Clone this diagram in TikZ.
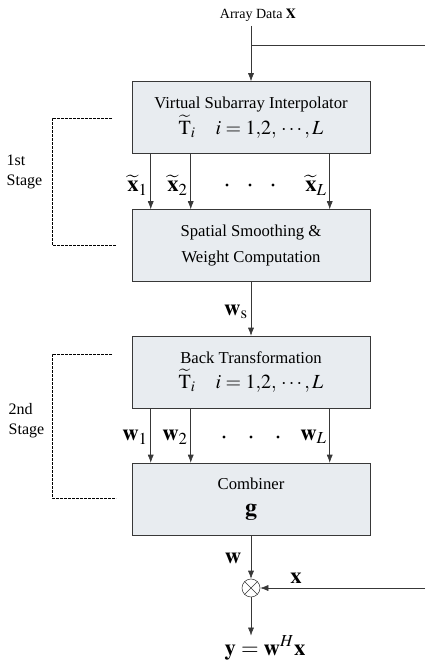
\documentclass[tikz,border=0pt]{standalone}
\usepackage{mathptmx}
\usepackage[no-math]{fontspec}
\setmainfont{Liberation Serif}
\usetikzlibrary{arrows.meta, calc, positioning}
\definecolor{box-fill}{RGB}{232,236,240}
\definecolor{line-gray}{gray}{0.22}

\begin{document}
\begin{tikzpicture}[x=0.75pt, y=-0.75pt, thin]
  \tikzstyle{block} = [draw=line-gray, fill=box-fill, minimum width=178.5pt, minimum height=54pt, align=center, font=\fontsize{12.5}{19}\selectfont]
  \tikzstyle{sig} = [-{Latex[length=6pt,width=4.5pt]}, draw=line-gray]
  \tikzstyle{stage} = [dash pattern=on 2pt off 1pt, draw=black]
  \tikzstyle{stagetext} = [align=left, anchor=west, font=\fontsize{12}{15}\selectfont]
  \tikzstyle{lbl} = [font=\fontsize{17}{17}\selectfont, inner sep=0pt]
  \def\tmath{\fontsize{15}{15}\selectfont$\widetilde{\mathrm{T}}_i\quad i=1{,}2,\,\cdots,L$}
  \useasboundingbox (0,0) rectangle (425,660);
% Input and blocks.
    \node[font=\fontsize{10.5}{12}\selectfont] (data) at (258,15) {Array Data $\mathbf{X}$};
    \node[block] (vsi) at (251,117.5) {Virtual Subarray Interpolator\\ \tmath};
    \node[block] (ssw) at (251,245.5) {Spatial Smoothing \&\\ Weight Computation};
    \node[block] (btr) at (251,372) {Back Transformation\\ \tmath};
    \node[block] (cmb) at (251,499) {Combiner\\ {\fontsize{18}{18}\selectfont$\mathbf{g}$}};
    \node[draw=line-gray, circle, inner sep=0pt, minimum size=13.5pt, fill=white] (mult) at (251,588) {};
    \draw[line-gray] (mult.north west) -- (mult.south east) (mult.north east) -- (mult.south west);
    \node[lbl, anchor=base] (res) at (265,655) {$\mathbf{y}=\mathbf{w}^{H}\mathbf{x}$};
% Input branch.
    \coordinate (split) at (251,45);
    \coordinate (xright) at (425,45);
    \coordinate (xin) at (425,588);
    \draw[sig] (data.south -| vsi.north) -- (vsi.north);
    \draw[line-gray] (split) -- (xright);
% Stage 1 outputs.
    \foreach \dx in {19,59,198}
      \draw[sig] ($(vsi.south west)+(\dx,0)$) -- ($(ssw.north west)+(\dx,0)$);
    \node[lbl, anchor=east] (xt1) at (148,185) {$\widetilde{\mathbf{x}}_1$};
    \node[lbl, anchor=east] (xt2) at (188,185) {$\widetilde{\mathbf{x}}_2$};
    \node[lbl, anchor=east] (xtL) at (327,185) {$\widetilde{\mathbf{x}}_L$};
    \foreach \px in {227,250,273}
      \fill (\px,185) circle (1.3pt);
    \draw[sig] (ssw) -- (btr);
    \node[lbl, anchor=east] (ws) at (248,312) {$\mathbf{w}_{\mathrm{s}}$};
% Stage 2 outputs.
    \foreach \dx in {19,59,198}
      \draw[sig] ($(btr.south west)+(\dx,0)$) -- ($(cmb.north west)+(\dx,0)$);
    \node[lbl, anchor=east] (w1) at (148,437) {$\mathbf{w}_1$};
    \node[lbl, anchor=east] (w2) at (188,437) {$\mathbf{w}_2$};
    \node[lbl, anchor=east] (wL) at (327,437) {$\mathbf{w}_L$};
    \foreach \px in {224,251,278}
      \fill (\px,437) circle (1.3pt);
% Combining.
    \draw[sig] (cmb) -- (mult);
    \node[lbl] (w) at (233,558) {$\mathbf{w}$};
    \draw[sig] (xin) -- (mult);
    \node[lbl] (xlbl) at (296,578) {$\mathbf{x}$};
    \draw[sig] (mult) -- (mult |- res.north);
% Stage brackets.
    \draw[stage] (112,118) -- (52,118) -- (52,245) -- (116,245);
    \draw[stage] (112,354) -- (52,354) -- (52,498) -- (116,498);
    \node[stagetext] (st1) at (2,172) {1st\\Stage};
    \node[stagetext] (st2) at (4,421) {2nd\\Stage};
  \end{tikzpicture}
\end{document}
